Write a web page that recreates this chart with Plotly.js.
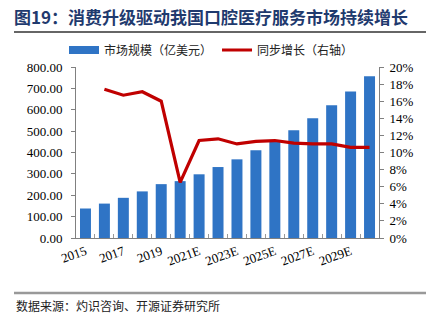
<!DOCTYPE html>
<html><head><meta charset="utf-8">
<script src="https://cdn.plot.ly/plotly-3.0.1.min.js"></script>
<style>html,body{margin:0;padding:0;background:#fff;}#chart{width:434px;height:324px;}</style>
</head><body><div id="chart"></div>
<script>
const categories = ["2015","2016","2017","2018","2019","2020","2021E","2022E","2023E","2024E","2025E","2026E","2027E","2028E","2029E","2030E"];
const marketSize = [138,161,188,218,252,266,298,332,368,410,451,504,560,621,685,757];
const growth = [null,17.4,16.7,17.1,16.0,6.5,11.4,11.6,11.0,11.3,11.4,11.1,11.0,11.0,10.6,10.6];
const tickLabels = ["2015","2017","2019","2021E","2023E","2025E","2027E","2029E"];
const leftTicks = [0,100,200,300,400,500,600,700,800];
const rightTicks = [0,2,4,6,8,10,12,14,16,18,20];
const titleText = "图19：消费升级驱动我国口腔医疗服务市场持续增长";
const sourceText = "数据来源：灼识咨询、开源证券研究所";
const barName = "市场规模（亿美元）";
const lineName = "同步增长（右轴）";

const serif = "Times New Roman, Liberation Serif, serif";
const cjk = "Noto Sans CJK SC, sans-serif";
const blue = "#2F74C5", red = "#C00000";

const traces = [
  {type:"bar", x:categories, y:marketSize, name:barName, showlegend:false,
   marker:{color:blue}, yaxis:"y"},
  // legend key drawn as a wide blue band, as in the reference
  {type:"scatter", mode:"lines", x:[categories[0]], y:[null], name:barName,
   line:{color:blue, width:8}, yaxis:"y", hoverinfo:"skip"},
  {type:"scatter", mode:"lines", x:categories, y:growth, name:lineName,
   line:{color:red, width:3.2}, yaxis:"y2", connectgaps:false}
];

const layout = {
  width:434, height:324,
  margin:{l:76, r:55, t:67, b:86},
  paper_bgcolor:"#fff", plot_bgcolor:"#fff",
  showlegend:true,
  legend:{orientation:"h", xref:"paper", xanchor:"left", yanchor:"middle",
          font:{family:cjk, size:12, color:"#222"}, itemwidth:30, tracegroupgap:0,
          bgcolor:"rgba(0,0,0,0)"},
  bargap:0.42,
  xaxis:{type:"category", tickmode:"array", tickvals:categories,
         ticktext:categories.map(c=>tickLabels.includes(c)?c:""),
         tickson:"boundaries", ticks:"inside", ticklen:4, tickcolor:"#999",
         tickangle:-20, tickfont:{family:serif, size:13, color:"#000"},
         showline:true, linecolor:"#808080", linewidth:1, showgrid:false},
  yaxis:{range:[0,800], tickvals:leftTicks, ticktext:leftTicks.map(v=>v.toFixed(2)),
         tickfont:{family:serif, size:13, color:"#000"}, showgrid:false, zeroline:false,
         showline:true, linecolor:"#808080", ticks:"outside", ticklen:4, tickcolor:"#808080",
         ticklabelstandoff:6},
  yaxis2:{range:[0,20], overlaying:"y", side:"right", tickvals:rightTicks,
          ticktext:rightTicks.map(v=>v+"%"), tickfont:{family:serif, size:13, color:"#000"},
          showgrid:false, zeroline:false, showline:true, linecolor:"#808080",
          ticks:"outside", ticklen:4, tickcolor:"#808080", ticklabelstandoff:3},
  annotations:[
    {text:"<b>"+titleText+"</b>", xref:"paper", yref:"paper",
     xanchor:"left", yanchor:"middle", showarrow:false,
     font:{family:cjk, size:17, color:"#1F3A6E"}},
    {text:sourceText, xref:"paper", yref:"paper", xanchor:"left", yanchor:"middle",
     showarrow:false, font:{family:cjk, size:12, color:"#222"}}
  ],
  shapes:[
    {type:"line", xref:"paper", yref:"paper", line:{color:"#333", width:1.5}},
    {type:"line", xref:"paper", yref:"paper", line:{color:"#999", width:2.5}}
  ]
};

// convert pixel positions to paper coordinates
const pw = 434-76-55, ph = 324-67-86;
function px2x(px){return (px-76)/pw;}
function py2y(py){return (324-86-py)/ph;}
layout.annotations[0].x = px2x(12); layout.annotations[0].y = py2y(17);
layout.annotations[1].x = px2x(14); layout.annotations[1].y = py2y(305);
layout.shapes[0].x0 = px2x(14); layout.shapes[0].x1 = px2x(426);
layout.shapes[0].y0 = layout.shapes[0].y1 = py2y(32);
layout.shapes[1].x0 = px2x(14); layout.shapes[1].x1 = px2x(426);
layout.shapes[1].y0 = layout.shapes[1].y1 = py2y(293);
layout.legend.x = px2x(64);
layout.legend.y = py2y(50);

Plotly.newPlot("chart", traces, layout, {staticPlot:true, displayModeBar:false});
</script></body></html>
